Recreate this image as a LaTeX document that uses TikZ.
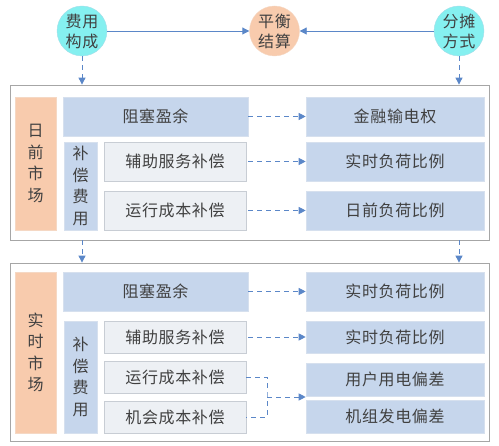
\documentclass[tikz,border=0pt]{standalone}
\usepackage{fontspec}
\setmainfont{Noto Sans CJK SC}[LetterSpace=4]
\usetikzlibrary{arrows.meta}
\begin{document}
\begin{tikzpicture}[x=1pt, y=-1pt,
    txt/.style={text=textColour, font=\fontsize{16}{21.5}\selectfont, align=center, inner sep=0pt},
    bluebox/.style={txt, fill=fillColourB, draw=borderColourB, line width=0.6pt},
    greybox/.style={txt, fill=fillColourG, draw=borderColourG, line width=0.6pt},
    sidebox/.style={txt, fill=fillColourS, draw=borderColourS, line width=0.6pt},
    circ/.style={txt, circle, minimum size=50pt, font=\fontsize{16}{20}\selectfont},
    frame/.style={draw=borderColourF, line width=0.8pt, inner sep=0pt},
    link/.style={draw=arrowColour, line width=0.9pt, -{Triangle[length=7pt, width=7pt]}},
    dlink/.style={link, dash pattern=on 5pt off 4pt}]

    \definecolor{textColour}{HTML}{404040}
    \definecolor{fillColourB}{HTML}{C6D6EC}
    \definecolor{borderColourB}{HTML}{D6E0EE}
    \definecolor{fillColourG}{HTML}{EDF0F4}
    \definecolor{borderColourG}{HTML}{C8CDD4}
    \definecolor{fillColourS}{HTML}{F8CBAD}
    \definecolor{borderColourS}{HTML}{F5D8C4}
    \definecolor{fillColourC}{HTML}{85F0F0}
    \definecolor{borderColourC}{HTML}{A6DDE8}
    \definecolor{borderColourF}{HTML}{A6A6A6}
    \definecolor{arrowColour}{HTML}{5B87C8}

    \useasboundingbox (0,0) rectangle (499,446);

    % Top circles
    \node[circ, fill=fillColourC, draw=borderColourC] (cost) at (82,31) {费用\\构成};
    \node[circ, fill=fillColourS, draw=borderColourS] (bal) at (274.5,31) {平衡\\结算};
    \node[circ, fill=fillColourC, draw=borderColourC] (alloc) at (459,31) {分摊\\方式};
    \draw[link] (cost) -- (bal);
    \draw[link] (alloc) -- (bal);

    % Day-ahead market
    \node[frame, minimum width=479pt, minimum height=155pt] (dframe) at (249.5,162.5) {};
    \node[sidebox, minimum width=41pt, minimum height=133pt] (dlabel) at (35.5,163.5) {日\\前\\市\\场};
    \node[bluebox, minimum width=185pt, minimum height=39pt] (dcong) at (155.5,116.5) {阻塞盈余};
    \node[bluebox, minimum width=33pt, minimum height=88pt] (dcomp) at (80.5,186) {补\\偿\\费\\用};
    \node[greybox, minimum width=142pt, minimum height=39pt] (danc) at (175,161.5) {辅助服务补偿};
    \node[greybox, minimum width=142pt, minimum height=39pt] (dop) at (175,210.5) {运行成本补偿};
    \node[bluebox, minimum width=178pt, minimum height=39pt] (dftr) at (395,116.5) {金融输电权};
    \node[bluebox, minimum width=178pt, minimum height=39pt] (drt) at (395,161.5) {实时负荷比例};
    \node[bluebox, minimum width=178pt, minimum height=39pt] (dda) at (395,210.5) {日前负荷比例};
    \draw[dlink] (dcong) -- (dftr);
    \draw[dlink] (danc.east -| dcong.east) -- (drt);
    \draw[dlink] (dop.east -| dcong.east) -- (dda);

    % Real-time market
    \node[frame, minimum width=479pt, minimum height=178pt] (rframe) at (249.5,352) {};
    \node[sidebox, minimum width=41pt, minimum height=161pt] (rlabel) at (35.5,352.5) {实\\时\\市\\场};
    \node[bluebox, minimum width=185pt, minimum height=39pt] (rcong) at (155.5,291.5) {阻塞盈余};
    \node[bluebox, minimum width=33pt, minimum height=112pt] (rcomp) at (80.5,377) {补\\偿\\费\\用};
    \node[greybox, minimum width=142pt, minimum height=32pt] (ranc) at (175,337) {辅助服务补偿};
    \node[greybox, minimum width=142pt, minimum height=32pt] (rop) at (175,377) {运行成本补偿};
    \node[greybox, minimum width=142pt, minimum height=32pt] (ropp) at (175,417) {机会成本补偿};
    \node[bluebox, minimum width=178pt, minimum height=39pt] (rrt) at (395,291.5) {实时负荷比例};
    \node[bluebox, minimum width=178pt, minimum height=32pt] (rrt2) at (395,337) {实时负荷比例};
    \node[bluebox, minimum width=178pt, minimum height=33pt] (ruser) at (395,379.5) {用户用电偏差};
    \node[bluebox, minimum width=178pt, minimum height=33pt] (rgen) at (395,416.5) {机组发电偏差};
    \draw[dlink] (rcong) -- (rrt);
    \draw[dlink] (ranc.east -| rcong.east) -- (rrt2);

    % Bracket joining the two cost items
    \coordinate (brk) at (267,397);
    \draw[draw=arrowColour, line width=0.9pt, dash pattern=on 5pt off 4pt]
        (rop.east) -| (brk) |- (ropp.east);
    \draw[dlink] (brk) -- (brk -| ruser.west);

    % Links from the circles down to the markets
    \draw[dlink] (cost) -- (cost |- dframe.north);
    \draw[dlink] (alloc) -- (alloc |- dframe.north);
    \draw[dlink] (cost |- dframe.south) -- (cost |- rframe.north);
    \draw[dlink] (alloc |- dframe.south) -- (alloc |- rframe.north);

\end{tikzpicture}
\end{document}
